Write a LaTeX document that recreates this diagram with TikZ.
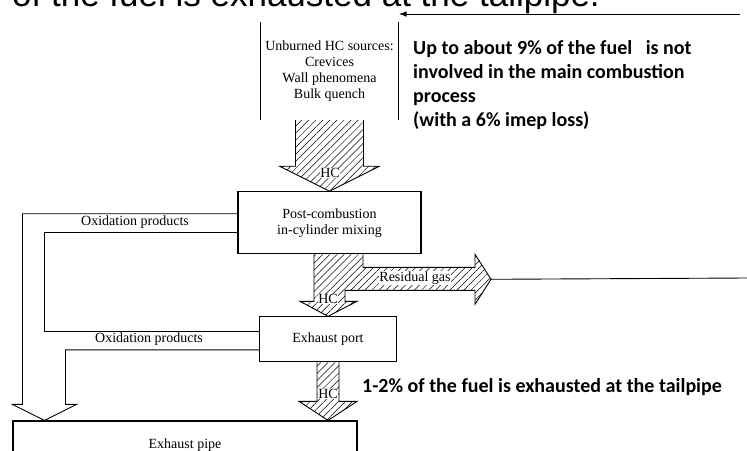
\documentclass[tikz,border=0pt]{standalone}
\usepackage{fontspec}
\setmainfont{Liberation Serif}
\newfontfamily\notefont{Carlito}
\newfontfamily\headfont{Liberation Sans}
\usetikzlibrary{arrows.meta,positioning,calc,patterns.meta}

\begin{document}
\begin{tikzpicture}[
  x=1pt, y=-1pt,
  node distance=62pt and 20pt,
  >=Latex,
  every node/.style={font=\fontsize{14}{16}\selectfont},
  block/.style={rectangle, draw, line width=1.1pt, align=center, inner sep=2pt},
  hcarrow/.style={pattern={Lines[angle=45,distance=5pt,line width=0.5pt]}},
  flowline/.style={line width=0.9pt, line join=miter},
  lbl/.style={fill=white, inner sep=0.5pt},
  note/.style={font=\notefont\bfseries\fontsize{20}{24}\selectfont, align=left, inner sep=0pt},
]

% === Frame ===
\useasboundingbox (0,0) rectangle (747,450);
\clip (0,0) rectangle (747,450);
\fill[white] (0,0) rectangle (747,450);

% === Boxes ===
\node[minimum width=138pt, minimum height=98pt, align=center] (src) at (329.5,71) {Unburned HC sources:\\Crevices\\Wall phenomena\\Bulk quench};
\draw[line width=1.1pt] (src.north west) -- (src.south west);
\draw[line width=1.1pt] (src.north east) -- (src.south east);

\node[block, minimum width=183pt, minimum height=62pt, below=71pt of src] (mix) {Post-combustion\\in-cylinder mixing};

\node[block, minimum width=137pt, minimum height=45pt, below=62pt of mix, xshift=-1.5pt] (port) {Exhaust port};

\node[block, minimum width=344pt, minimum height=48pt, below=58pt of port, xshift=-143pt] (pipe) {Exhaust pipe};

% === HC arrows ===
\filldraw[hcarrow, flowline] ($(src.south)+(-34,0)$) -- ++(0,46) -- ++(-16,0) -- (mix.north) -- ($(src.south)+(50,46)$) -- ++(-16,0) -- ++(0,-46);

\coordinate (resid) at ($(mix.south)+(161.5,25)$);
\filldraw[hcarrow, flowline] ($(mix.south)+(-15.5,0)$) -- ++(0,47) -- ++(-14,0) -- (port.north) -- ($(mix.south)+(27.5,47)$) -- ++(-12,0) -- ++(0,-11) -- ++(130,0) -- ++(0,14) -- (resid) -- ++(-16,-25) -- ++(0,13) -- ++(-112,0) -- ++(0,-13);

\filldraw[hcarrow, flowline] ($(port.south)+(-11,0)$) -- ++(0,39) -- ++(-18,0) -- (port.south |- pipe.north) -- ($(port.south)+(29,39)$) -- ++(-18,0) -- ++(0,-39);

% === Oxidation products ===
\draw[flowline] ([yshift=9pt]mix.west) -| ($(pipe.north west)+(10,-16)$) -- ++(-10,0) -- ($(pipe.north west)+(32,0)$) -- ++(32,-16) -- ++(-11,0) |- ([yshift=-10.5pt]port.west);
\draw[flowline] ([yshift=-10pt]mix.west) -| ([xshift=-215pt,yshift=7.5pt]port.west) -- ([yshift=7.5pt]port.west);

% === Labels ===
\node (ox1) at (135,222) {Oxidation products};
\node (ox2) at (149,339) {Oxidation products};
\node[lbl] (hc1) at (330,173) {HC};
\node[lbl] (hc2) at (328,299) {HC};
\node[lbl] (hc3) at (328,394) {HC};
\node[lbl] (resgas) at (415,278) {Residual gas};

% === Notes ===
\node[note, anchor=north west] (note1) at (413,40) {Up to about 9\% of the fuel\ \ \ is not\\involved in the main combustion\\process\\(with a 6\% imep loss)};
\node[note, anchor=west] (note2) at (362,387) {1-2\% of the fuel is exhausted at the tailpipe};
\node[font=\headfont\fontsize{35}{40}\selectfont, anchor=base west, inner sep=0pt] (head) at (12,6) {of the fuel is exhausted at the tailpipe.};

% === Side lines ===
\coordinate (feedR) at (740,14);
\coordinate (feedL) at (399,14);
\draw[->, line width=1pt] (feedR) -- (feedL);
\coordinate (resEnd) at (747,278);
\draw[line width=0.9pt] (resid) -- (resEnd);

\end{tikzpicture}
\end{document}
